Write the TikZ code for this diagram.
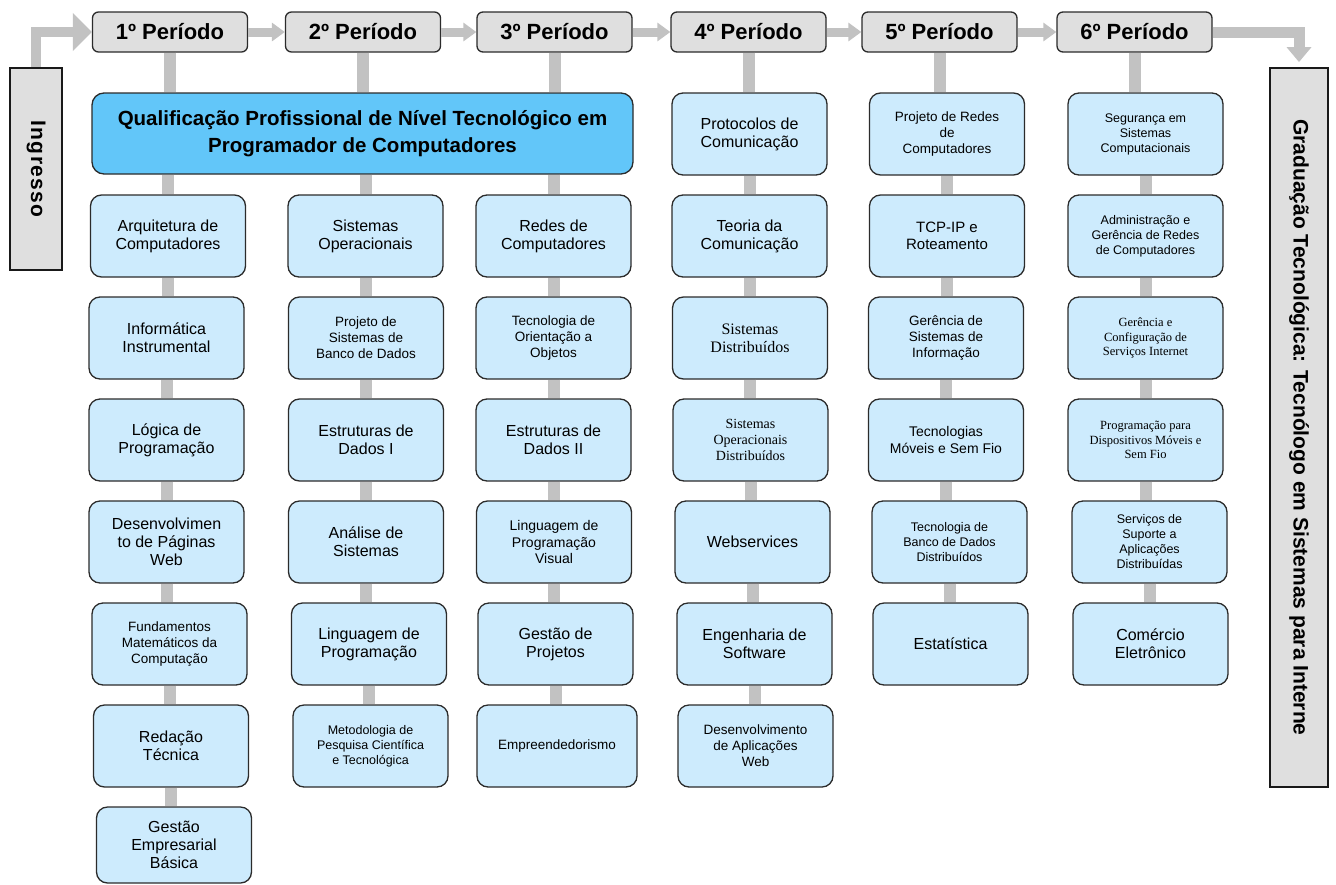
\documentclass[tikz,border=0pt]{standalone}
\usepackage{fontspec}
\setmainfont{Liberation Sans}
\newfontfamily\serifada{Liberation Serif}
\usepackage{tikz}
\usetikzlibrary{arrows.meta}

\definecolor{cinzaliga}{HTML}{C2C2C2}
\definecolor{cinzacaixa}{HTML}{DFDFDF}
\definecolor{azulclaro}{HTML}{CDEBFD}
\definecolor{azulforte}{HTML}{62C6F9}
\definecolor{borda}{HTML}{2B2B2B}

\tikzset{
  periodo/.style={draw=borda, line width=1.3pt, fill=cinzacaixa, rounded corners=6pt,
    minimum width=155pt, minimum height=40pt, inner sep=0pt,
    font=\bfseries\fontsize{22}{24}\selectfont},
  lateral/.style={draw=black!90, line width=1.8pt, fill=cinzacaixa, inner sep=0pt,
    font=\bfseries\fontsize{21}{24}\selectfont},
  qualif/.style={draw=borda, line width=1.3pt, fill=azulforte, rounded corners=12pt,
    minimum width=541pt, minimum height=81pt, align=center,
    font=\bfseries\fontsize{20.5}{27}\selectfont},
  disc/.style={draw=borda, line width=1.3pt, fill=azulclaro, rounded corners=11pt,
    minimum width=155pt, minimum height=82pt, align=center, inner sep=2pt},
  t12/.style={font=\fontsize{12.5}{15}\selectfont},
  t13/.style={font=\fontsize{13.5}{16}\selectfont},
  t14/.style={font=\fontsize{14}{16.5}\selectfont},
  t15/.style={font=\fontsize{15}{17.5}\selectfont},
  t16/.style={font=\fontsize{16}{18}\selectfont},
  s12/.style={font=\serifada\fontsize{12.5}{14.5}\selectfont},
  s14/.style={font=\serifada\fontsize{14}{16}\selectfont},
  s16/.style={font=\serifada\fontsize{16}{18}\selectfont},
  liga/.style={draw=cinzaliga, line width=12pt},
  seta/.style={draw=cinzaliga, line width=9pt, -{Triangle[length=13pt,width=18pt]}},
}

\begin{document}
\begin{tikzpicture}[x=1pt,y=-1pt]
    \useasboundingbox (0,0) rectangle (1336,884);

    % Periodos
    \node[periodo] (p1) at (170,32) {1º Período};
    \node[periodo] (p2) at (363,32) {2º Período};
    \node[periodo] (p3) at (554.5,32) {3º Período};
    \node[periodo] (p4) at (748.5,32) {4º Período};
    \node[periodo] (p5) at (939.5,32) {5º Período};
    \node[periodo] (p6) at (1134.5,32) {6º Período};

    % Ingresso and Graduacao
    \node[lateral, minimum width=52pt, minimum height=202pt] (ingresso) at (36,169)
        {\rotatebox{-90}{\addfontfeature{LetterSpace=6}Ingresso}};
    \node[lateral, minimum width=58pt, minimum height=719pt] (grad) at (1299,427.5)
        {\rotatebox{-90}{Graduação Tecnológica: Tecnólogo em Sistemas para Interne}};

    % Qualificacao
    \node[qualif] (q) at (362.5,133.5)
        {Qualificação Profissional de Nível Tecnológico em\\Programador de Computadores};

    % 1º Período
    \node[disc, t16] (a1) at (168,236) {Arquitetura de\\Computadores};
    \node[disc, t16] (a2) at (166.5,338) {Informática\\Instrumental};
    \node[disc, t16] (a3) at (166.5,440) {Lógica de\\Programação};
    \node[disc, t16] (a4) at (166.5,542) {Desenvolvimen\\to de Páginas\\Web};
    \node[disc, t13] (a5) at (169.5,644) {Fundamentos\\Matemáticos da\\Computação};
    \node[disc, t16] (a6) at (171,746) {Redação\\Técnica};
    \node[disc, t16, minimum height=76pt] (a7) at (174,845) {Gestão\\Empresarial\\Básica};

    % 2º Período
    \node[disc, t16] (b1) at (365.5,236) {Sistemas\\Operacionais};
    \node[disc, t13] (b2) at (366,338) {Projeto de\\Sistemas de\\Banco de Dados};
    \node[disc, t16] (b3) at (366,440) {Estruturas de\\Dados I};
    \node[disc, t16] (b4) at (366,542) {Análise de\\Sistemas};
    \node[disc, t16] (b5) at (369,644) {Linguagem de\\Programação};
    \node[disc, t12] (b6) at (370.5,746) {Metodologia de\\Pesquisa Científica\\e Tecnológica};

    % 3º Período
    \node[disc, t16] (c1) at (553.5,236) {Redes de\\Computadores};
    \node[disc, t13] (c2) at (553.5,338) {Tecnologia de\\Orientação a\\Objetos};
    \node[disc, t16] (c3) at (553.5,440) {Estruturas de\\Dados II};
    \node[disc, t14] (c4) at (554,542) {Linguagem de\\Programação\\Visual};
    \node[disc, t16] (c5) at (555.5,644) {Gestão de\\Projetos};
    \node[disc, t13, minimum width=160pt] (c6) at (557,746) {Empreendedorismo};

    % 4º Período
    \node[disc, t16] (d0) at (749.5,134) {Protocolos de\\Comunicação};
    \node[disc, t16] (d1) at (749.5,236) {Teoria da\\Comunicação};
    \node[disc, s16] (d2) at (750,338) {Sistemas\\Distribuídos};
    \node[disc, s14] (d3) at (750.5,440) {Sistemas\\Operacionais\\Distribuídos};
    \node[disc, t16] (d4) at (752.5,542) {Webservices};
    \node[disc, t16] (d5) at (754.5,644) {Engenharia de\\Software};
    \node[disc, t13] (d6) at (755.5,746) {Desenvolvimento\\de Aplicações\\Web};

    % 5º Período
    \node[disc, t13] (e0) at (947,134) {Projeto de Redes\\de\\Computadores};
    \node[disc, t15] (e1) at (947,236) {TCP-IP e\\Roteamento};
    \node[disc, t13] (e2) at (946,338) {Gerência de\\Sistemas de\\Informação};
    \node[disc, t14] (e3) at (946,440) {Tecnologias\\Móveis e Sem Fio};
    \node[disc, t12] (e4) at (949.5,542) {Tecnologia de\\Banco de Dados\\Distribuídos};
    \node[disc, t16] (e5) at (950.5,644) {Estatística};

    % 6º Período
    \node[disc, t12] (f0) at (1145.5,134) {Segurança em\\Sistemas\\Computacionais};
    \node[disc, t12] (f1) at (1145.5,236) {Administração e\\Gerência de Redes\\de Computadores};
    \node[disc, s12] (f2) at (1145.5,338) {Gerência e\\Configuração de\\Serviços Internet};
    \node[disc, s12] (f3) at (1145.5,440) {Programação para\\Dispositivos Móveis e\\Sem Fio};
    \node[disc, t12] (f4) at (1149.5,542) {Serviços de\\Suporte a\\Aplicações\\Distribuídas};
    \node[disc, t16] (f5) at (1150.5,644) {Comércio\\Eletrônico};

    % Setas entre periodos
    \draw[seta, line width=10pt, -{Triangle[length=19pt,width=37pt]}] (ingresso.north) |- (p1.west);
    \draw[seta] (p1.east) -- (p2.west);
    \draw[seta] (p2.east) -- (p3.west);
    \draw[seta] (p3.east) -- (p4.west);
    \draw[seta] (p4.east) -- (p5.west);
    \draw[seta] (p5.east) -- (p6.west);
    \draw[seta, line width=11pt, -{Triangle[length=15pt,width=24pt]}] (p6.east) -| ([yshift=5pt]grad.north);

    % Ligacoes
    \draw[liga] (p1.south) -- (p1.south |- q.north) (p2.south) -- (p2.south |- q.north)
        (p3.south) -- (p3.south |- q.north);
    \draw[liga] (a1.north |- q.south) -- (a1.north) (b1.north |- q.south) -- (b1.north)
        (c1.north |- q.south) -- (c1.north);
    \draw[liga] (p4.south) -- (p4.south |- d0.north) (p5.south) -- (p5.south |- e0.north)
        (p6.south) -- (p6.south |- f0.north);
    \draw[liga] (a1.south) -- (a1.south |- a2.north) (a2.south) -- (a2.south |- a3.north)
        (a3.south) -- (a3.south |- a4.north) (a4.south) -- (a4.south |- a5.north)
        (a5.south) -- (a5.south |- a6.north) (a6.south) -- (a6.south |- a7.north);
    \draw[liga] (b1.south) -- (b1.south |- b2.north) (b2.south) -- (b2.south |- b3.north)
        (b3.south) -- (b3.south |- b4.north) (b4.south) -- (b4.south |- b5.north)
        (b5.south) -- (b5.south |- b6.north);
    \draw[liga] (c1.south) -- (c1.south |- c2.north) (c2.south) -- (c2.south |- c3.north)
        (c3.south) -- (c3.south |- c4.north) (c4.south) -- (c4.south |- c5.north)
        (c5.south) -- (c5.south |- c6.north);
    \draw[liga] (d0.south) -- (d0.south |- d1.north) (d1.south) -- (d1.south |- d2.north)
        (d2.south) -- (d2.south |- d3.north) (d3.south) -- (d3.south |- d4.north)
        (d4.south) -- (d4.south |- d5.north) (d5.south) -- (d5.south |- d6.north);
    \draw[liga] (e0.south) -- (e0.south |- e1.north) (e1.south) -- (e1.south |- e2.north)
        (e2.south) -- (e2.south |- e3.north) (e3.south) -- (e3.south |- e4.north)
        (e4.south) -- (e4.south |- e5.north);
    \draw[liga] (f0.south) -- (f0.south |- f1.north) (f1.south) -- (f1.south |- f2.north)
        (f2.south) -- (f2.south |- f3.north) (f3.south) -- (f3.south |- f4.north)
        (f4.south) -- (f4.south |- f5.north);
\end{tikzpicture}
\end{document}
